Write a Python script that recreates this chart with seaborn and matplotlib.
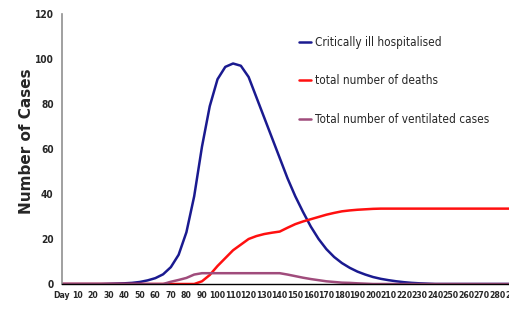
import pandas as pd
import matplotlib
matplotlib.use('Agg')
import matplotlib.pyplot as plt
import seaborn as sns

# days along the x axis (every 5 days)
days = list(range(0, 295, 5))

# values
critically_ill = [0, 0, 0, 0, 0, 0, 0.1, 0.2, 0.3, 0.5, 0.9, 1.6, 2.6, 4.3, 7.5,
                  13, 23, 39, 61, 79, 91, 96.5, 98, 97, 92, 83, 74, 65, 56, 47,
                  39, 32, 25.5, 20, 15.5, 12, 9.3, 7.2, 5.5, 4.2, 3.1, 2.3, 1.7,
                  1.2, 0.8, 0.5, 0.3, 0.15, 0, 0, 0, 0, 0, 0, 0, 0, 0, 0, 0]
deaths = [0, 0, 0, 0, 0, 0, 0, 0, 0, 0, 0, 0, 0, 0, 0, 0, 0, 0, 1.2, 4, 8,
          11.5, 15, 17.5, 20, 21.3, 22.2, 22.8, 23.3, 25, 26.6, 27.8, 28.8,
          29.8, 30.8, 31.6, 32.3, 32.7, 33, 33.2, 33.4, 33.5, 33.5, 33.5, 33.5,
          33.5, 33.5, 33.5, 33.5, 33.5, 33.5, 33.5, 33.5, 33.5, 33.5, 33.5,
          33.5, 33.5, 33.5]
ventilated = [0, 0, 0, 0, 0, 0, 0, 0, 0, 0, 0, 0, 0, 0, 1, 1.8, 2.7, 4.2, 4.8,
              4.8, 4.8, 4.8, 4.8, 4.8, 4.8, 4.8, 4.8, 4.8, 4.8, 4.2, 3.5, 2.8,
              2.2, 1.7, 1.2, 0.9, 0.6, 0.5, 0.3, 0.15, 0, 0, 0, 0, 0, 0, 0, 0,
              0, 0, 0, 0, 0, 0, 0, 0, 0, 0, 0]

series_names = ['Critically ill hospitalised', 'total number of deaths',
                'Total number of ventilated cases']
colors = ['#1a1a90', '#ff1010', '#a04c7c']

x_ticks = list(range(0, 300, 10))
x_labels = ['Day'] + [str(t) for t in x_ticks[1:]]
y_ticks = [0, 20, 40, 60, 80, 100, 120]

df = pd.DataFrame({
    'day': days * 3,
    'cases': critically_ill + deaths + ventilated,
    'series': [series_names[0]] * len(days) + [series_names[1]] * len(days)
              + [series_names[2]] * len(days),
})

sns.set_style('white')
narrow = ['DejaVu Sans']

fig = plt.figure(figsize=(5.1, 3.09), dpi=100)
ax = fig.add_axes([62 / 510, 25 / 309, 451 / 510, 270 / 309])

sns.lineplot(data=df, x='day', y='cases', hue='series', hue_order=series_names,
             palette=colors, linewidth=1.8, ax=ax, legend=False)

ax.set_xlim(0, 290)
ax.set_ylim(0, 120)
ax.set_xticks(x_ticks)
ax.set_xticklabels(x_labels, family=narrow, fontsize=6.2, fontweight='bold',
                   fontstretch='condensed')
ax.set_yticks(y_ticks)
ax.set_yticklabels([str(t) for t in y_ticks], family=narrow, fontsize=7.3,
                   fontweight='bold', fontstretch='condensed')
ax.tick_params(axis='x', length=0, pad=5)
ax.tick_params(axis='y', length=3, width=1, color='#808080', pad=3)
ax.set_xlabel('')
ax.set_ylabel('')

for side in ['top', 'right']:
    ax.spines[side].set_visible(False)
ax.spines['left'].set_color('#909090')
ax.spines['left'].set_linewidth(1.2)
ax.spines['bottom'].set_color('black')
ax.spines['bottom'].set_linewidth(1)

fig.text(27 / 510, 1 - 141 / 309, 'Number of Cases', rotation=90,
         ha='center', va='center', fontsize=11, fontweight='bold',
         family='DejaVu Sans')

handles = ax.get_lines()[:3]
leg = fig.legend(handles, series_names, loc='upper left',
                 bbox_to_anchor=(299 / 510, 1 - 36 / 309), frameon=False,
                 prop={'family': narrow, 'size': 8.5, 'stretch': 'condensed'},
                 handlelength=1.0, handletextpad=0.35, labelspacing=2.15,
                 borderaxespad=0, borderpad=0)

fig.savefig('out.png', dpi=100)
